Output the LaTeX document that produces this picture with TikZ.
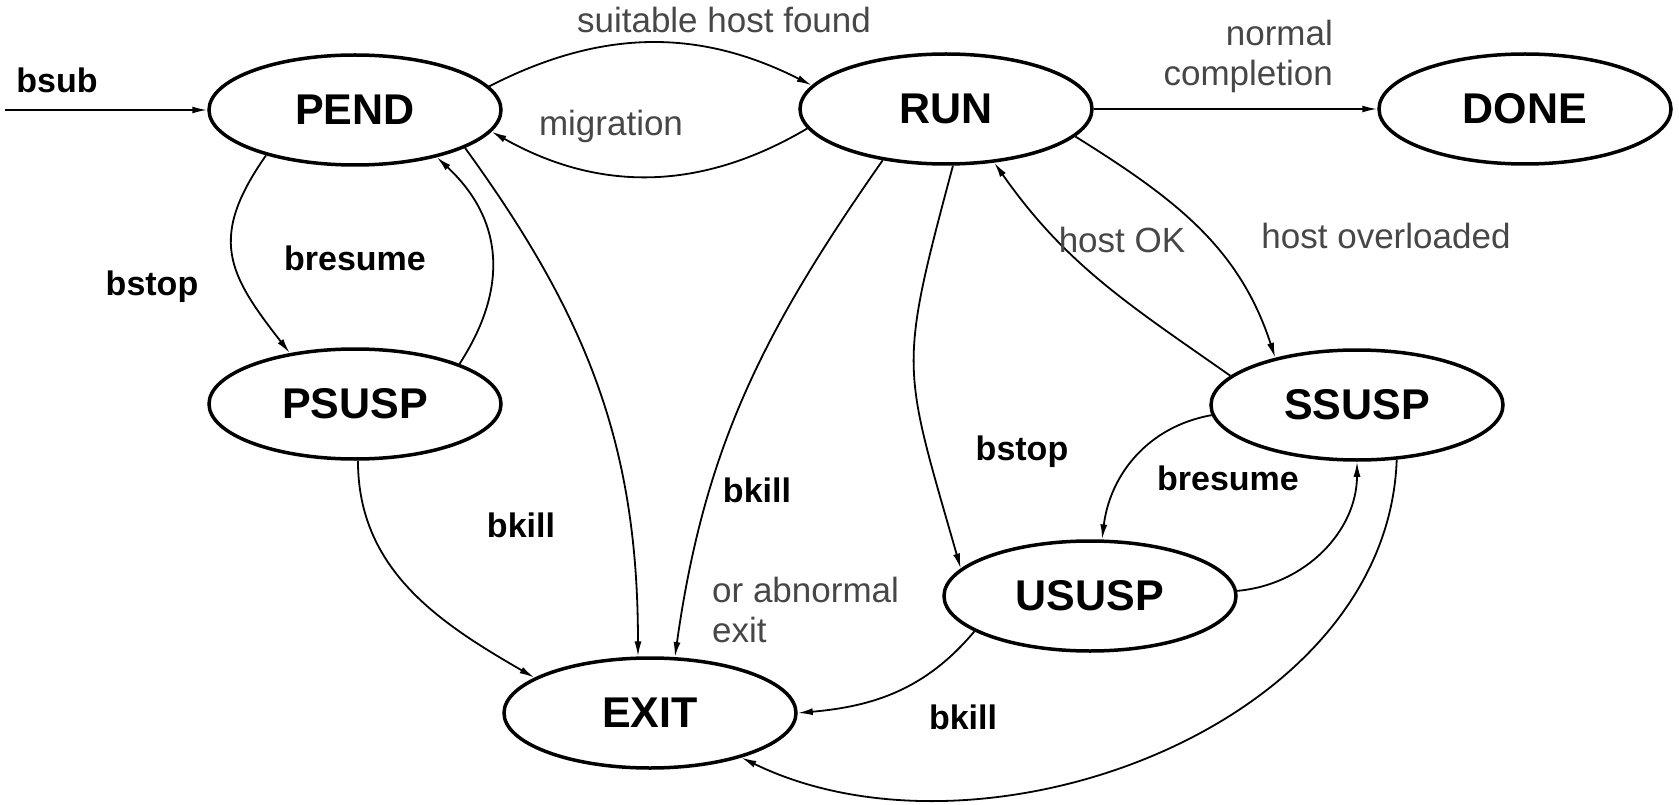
\documentclass[tikz,border=0pt]{standalone}
\usepackage{fontspec}
\setmainfont{Liberation Sans}
\usetikzlibrary{arrows.meta,shapes.geometric}
\begin{document}
\begin{tikzpicture}[x=1pt,y=1pt,
  state/.style={draw, ellipse, line width=3.5pt, minimum width=292pt, minimum height=110pt, inner sep=0pt,
    font=\fontsize{43}{46}\selectfont\bfseries},
  edge/.style={line width=1.8pt, -{Latex[length=15pt,width=7pt]}},
  lbl/.style={font=\fontsize{35}{40}\selectfont, text=black!72, inner sep=0pt},
  blbl/.style={font=\fontsize{34}{40}\selectfont\bfseries, inner sep=0pt}]
\useasboundingbox (0,0) rectangle (1679,-805);
% states
\node[state] (PEND)  at (355,-110) {PEND};
\node[state] (RUN)   at (946,-109) {RUN};
\node[state] (DONE)  at (1525,-109) {DONE};
\node[state] (PSUSP) at (355,-404) {PSUSP};
\node[state] (SSUSP) at (1357,-405) {SSUSP};
\node[state] (USUSP) at (1090,-596) {USUSP};
\node[state] (EXIT)  at (650,-713) {EXIT};
\coordinate (start) at (5,-110);
% edges
\draw[edge] (start) -- (PEND.west);
\draw[edge] (PEND.10) to[bend left=27] (RUN.170);
\draw[edge] (RUN.188) to[bend left=30] (PEND.-9);
\draw[edge] (RUN.east) -- (DONE.west);
\draw[edge] (PEND.207) to[out=-125,in=128,looseness=1.3] (PSUSP.142);
\draw[edge] (PSUSP.21) to[out=57,in=-43,looseness=1.12] (PEND.-30);
\draw[edge] (PEND.-19) to[out=-54,in=90] (EXIT.102);
\draw[edge] (PSUSP.-87) to[out=-90,in=150] (EXIT.163);
\draw[edge] (RUN.219) to[out=-125,in=82] (EXIT.66);
\draw[edge] (RUN.-83) to[out=-105,in=106,looseness=1.35] (USUSP.168);
\draw[edge] (SSUSP.167) to[out=145,in=-55] (RUN.-48);
\draw[edge] (RUN.-12) to[out=-32,in=108] (SSUSP.150);
\draw[edge] (SSUSP.184) to[out=190,in=83] (USUSP.78);
\draw[edge] (USUSP.2) to[out=5,in=-90] (SSUSP.-90);
\draw[edge] (USUSP.197) to[out=-130,in=5] (EXIT.east);
\draw[edge] (SSUSP.-54) to[out=-92,in=-26,looseness=0.95] (EXIT.-26);
% labels
\node[blbl] (lbsub) at (57,-80) {bsub};
\node[lbl] (lsuit) at (724,-20) {suitable host found};
\node[lbl] (lmig) at (611,-126) {migration};
\node[lbl, anchor=base east] (lnorm1) at (1333,-46) {normal};
\node[lbl, anchor=base east] (lnorm2) at (1333,-86) {completion};
\node[blbl] (lbres1) at (355,-258) {bresume};
\node[blbl] (lbstop1) at (152,-287) {bstop};
\node[lbl] (lhok) at (1122,-240) {host OK};
\node[lbl] (lhov) at (1386,-236) {host overloaded};
\node[blbl] (lbk1) at (521,-525) {bkill};
\node[blbl] (lbk2) at (757,-490) {bkill};
\node[lbl, anchor=base west] (labn1) at (712,-602) {or abnormal};
\node[lbl, anchor=base west] (labn2) at (712,-642) {exit};
\node[blbl] (lbstop2) at (1022,-452) {bstop};
\node[blbl] (lbres2) at (1228,-478) {bresume};
\node[blbl] (lbk3) at (963,-717) {bkill};
\end{tikzpicture}
\end{document}
